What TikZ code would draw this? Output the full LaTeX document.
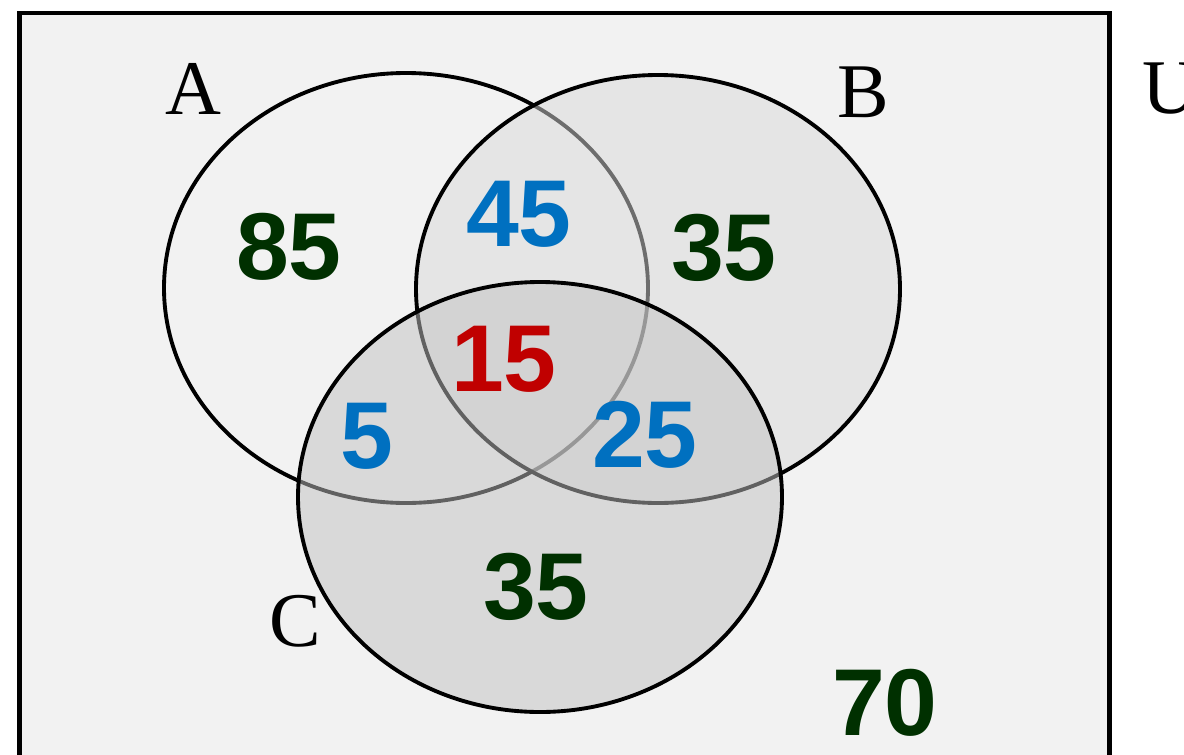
\documentclass[tikz,border=0pt]{standalone}
\usepackage{fontspec}
\setmainfont{Liberation Serif}
\newfontfamily\numfont{Liberation Sans}
\usetikzlibrary{positioning}

\definecolor{bgfill}{gray}{0.949}
\definecolor{bfill}{gray}{0.855}
\definecolor{cfill}{gray}{0.76}
\definecolor{numgreen}{RGB}{0,48,0}
\definecolor{numblue}{RGB}{0,112,192}
\definecolor{numred}{RGB}{192,0,0}

\begin{document}
\begin{tikzpicture}[x=0.01cm, y=-0.01cm,
  setline/.style={line width=1.1pt, black},
  setname/.style={font=\fontsize{22}{26}\selectfont},
  count/.style={font=\numfont\bfseries\fontsize{27}{32}\selectfont, inner sep=0pt}]

\useasboundingbox (0,0) rectangle (1184,754);
\clip (0,0) rectangle (1184,754);

% --- Universe box (runs past the bottom edge) ---
\draw[line width=1.4pt, fill=bgfill] (19.5,13) rectangle (1109.5,800);

% --- Sets: A open, B and C half see-through ---
\draw[setline] (406,288) ellipse [x radius=242, y radius=215];
\draw[setline, fill=bfill, fill opacity=0.5] (658,289) ellipse [x radius=242, y radius=214];
\draw[setline, fill=cfill, fill opacity=0.5] (540,497) ellipse [x radius=242, y radius=215];

% --- Set names ---
\node[setname] (labA) at (193,89) {A};
\node[setname] (labB) at (863,92) {B};
\node[setname] (labC) at (295,621) {C};
\node[setname] (labU) at (1170,89) {U};

% --- Region counts ---
\foreach \nm/\x/\y/\val/\col in {nA/289/247/85/numgreen, nAB/519/214/45/numblue,
    nB/724/248/35/numgreen, nABC/504/359/15/numred, nAC/367/436/5/numblue,
    nBC/645/435/25/numblue, nC/536/587/35/numgreen, nU/885/703/70/numgreen} {
  \node[count, text=\col] (\nm) at (\x,\y) {\val};
}

\end{tikzpicture}
\end{document}
